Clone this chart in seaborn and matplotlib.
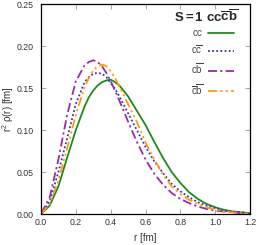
import matplotlib
matplotlib.use("Agg")
import matplotlib.pyplot as plt
import numpy as np
import pandas as pd
import seaborn as sns

# radius grid [fm] and r^2 rho(r) for each quark pair
r = [0.000, 0.050, 0.100, 0.150, 0.200, 0.250, 0.275, 0.300, 0.325, 0.350, 0.375, 0.400, 0.425,
     0.450, 0.500, 0.550, 0.600, 0.650, 0.700, 0.750, 0.800, 0.850, 0.900, 0.950, 1.000,
     1.050, 1.100, 1.150, 1.200]
cc = [0.000, 0.010, 0.033, 0.067, 0.100, 0.128, 0.139, 0.147, 0.153, 0.157, 0.159, 0.160, 0.157,
      0.153, 0.140, 0.123, 0.106, 0.086, 0.067, 0.050, 0.037, 0.026, 0.018, 0.012, 0.008,
      0.005, 0.003, 0.002, 0.001]
ccbar = [0.000, 0.015, 0.050, 0.090, 0.131, 0.157, 0.163, 0.167, 0.168, 0.167, 0.163, 0.156, 0.149,
         0.140, 0.120, 0.100, 0.080, 0.063, 0.049, 0.036, 0.027, 0.020, 0.014, 0.010, 0.007,
         0.004, 0.003, 0.002, 0.001]
cbbar = [0.000, 0.020, 0.065, 0.118, 0.158, 0.177, 0.181, 0.183, 0.181, 0.176, 0.168, 0.158, 0.147,
         0.135, 0.110, 0.086, 0.065, 0.048, 0.035, 0.025, 0.018, 0.013, 0.009, 0.006, 0.004,
         0.003, 0.002, 0.001, 0.001]
cbarbbar = [0.000, 0.012, 0.040, 0.078, 0.118, 0.151, 0.162, 0.171, 0.176, 0.178, 0.176, 0.170, 0.162,
            0.152, 0.131, 0.110, 0.085, 0.065, 0.047, 0.033, 0.024, 0.017, 0.012, 0.008, 0.005,
            0.003, 0.002, 0.001, 0.001]

labels = [r"$\mathrm{cc}$", r"$\mathrm{c\overline{c}}$", r"$\mathrm{c\overline{b}}$",
          r"$\mathrm{\overline{c}\overline{b}}$"]
series = [cc, ccbar, cbbar, cbarbbar]
colors = ["#1e8a1e", "#3434b8", "#9a2aaa", "#ff9a10"]
dashes = ["", (1, 1.3), (5, 1.8, 1.2, 1.8), (5, 1.8, 1.2, 1.8, 1.2, 1.8)]

sns.set_theme(style="white")
plt.rcParams["font.family"] = ["Liberation Sans", "DejaVu Sans"]
plt.rcParams["mathtext.fontset"] = "custom"
plt.rcParams["mathtext.rm"] = "Liberation Sans"
plt.rcParams["mathtext.it"] = "Liberation Sans"
plt.rcParams["mathtext.bf"] = "Liberation Sans:bold"

fig = plt.figure(figsize=(2.58, 2.45), dpi=100)
ax = fig.add_axes([41 / 258, 1 - 214 / 245, 209 / 258, 210 / 245])

for lab, vals, col, dsh in zip(labels, series, colors, dashes):
    df = pd.DataFrame({"r": r, "v": vals})
    sns.lineplot(data=df, x="r", y="v", ax=ax, color=col, linewidth=1.3, label=lab)
    if dsh:
        ax.lines[-1].set_dashes(dsh)

ax.set_xlim(0, 1.2)
ax.set_ylim(0, 0.25)
ax.set_xticks(np.arange(0, 1.21, 0.2))
ax.set_yticks(np.arange(0, 0.251, 0.05))
ax.xaxis.set_major_formatter(matplotlib.ticker.FormatStrFormatter("%.1f"))
ax.yaxis.set_major_formatter(matplotlib.ticker.FormatStrFormatter("%.2f"))
ax.tick_params(direction="in", length=3.5, width=0.6, color="#999999", labelsize=6.3,
               labelcolor="#333333", top=True, right=True, bottom=True, left=True)
ax.tick_params(axis="y", pad=5)
ax.tick_params(axis="x", pad=3)
for sp in ax.spines.values():
    sp.set_color("black")
    sp.set_linewidth(0.9)

ax.set_xlabel("r [fm]", fontsize=7, color="#333333", va="center")
ax.set_ylabel(r"r$^2$ ρ(r) [fm]", fontsize=7, color="#333333", va="center")
ax.xaxis.set_label_coords(0.5, -0.114)
ax.yaxis.set_label_coords(-0.158, 0.5)

ax.text(0.943, 0.915, r"$\mathbf{S{=}1\ cc\overline{c}\overline{b}}$", transform=ax.transAxes,
        ha="right", va="baseline", fontsize=9.5)

leg = ax.legend(loc="upper right", bbox_to_anchor=(0.925, 0.885), frameon=False, markerfirst=False,
                fontsize=7, handlelength=2.7, handletextpad=0.5, labelspacing=0.55, borderpad=0,
                borderaxespad=0)
for t in leg.get_texts():
    t.set_color("#444444")

plt.savefig("out.png", dpi=100)
